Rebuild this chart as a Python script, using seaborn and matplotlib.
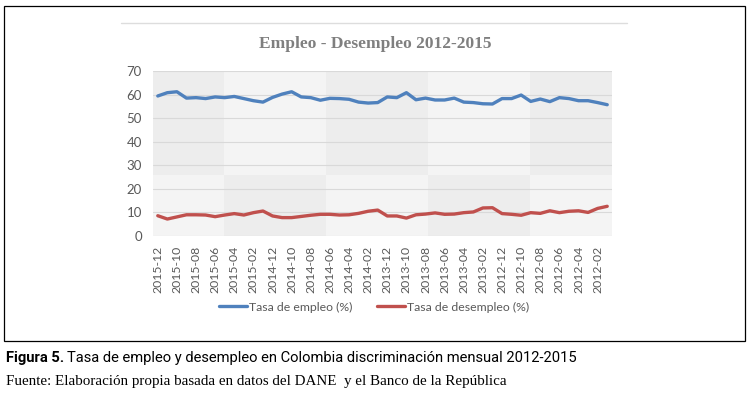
import matplotlib
matplotlib.use("Agg")
import matplotlib.pyplot as plt
from matplotlib.patches import Rectangle
import seaborn as sns
import pandas as pd

months = [
    "2015-12", "2015-11", "2015-10", "2015-09", "2015-08", "2015-07", "2015-06", "2015-05",
    "2015-04", "2015-03", "2015-02", "2015-01", "2014-12", "2014-11", "2014-10", "2014-09",
    "2014-08", "2014-07", "2014-06", "2014-05", "2014-04", "2014-03", "2014-02", "2014-01",
    "2013-12", "2013-11", "2013-10", "2013-09", "2013-08", "2013-07", "2013-06", "2013-05",
    "2013-04", "2013-03", "2013-02", "2013-01", "2012-12", "2012-11", "2012-10", "2012-09",
    "2012-08", "2012-07", "2012-06", "2012-05", "2012-04", "2012-03", "2012-02", "2012-01",
]
empleo = [
    59.4, 60.8, 61.2, 58.5, 58.7, 58.3, 59.0, 58.7, 59.2, 58.3, 57.4, 56.8,
    58.8, 60.2, 61.2, 59.0, 58.7, 57.6, 58.4, 58.3, 58.0, 56.8, 56.4, 56.6,
    59.0, 58.7, 60.8, 57.8, 58.5, 57.7, 57.7, 58.5, 56.8, 56.6, 56.1, 56.0,
    58.3, 58.3, 59.8, 57.1, 58.1, 57.0, 58.7, 58.3, 57.4, 57.4, 56.6, 55.7,
]
desempleo = [
    8.6, 7.2, 8.1, 9.0, 9.0, 8.9, 8.2, 8.9, 9.5, 8.9, 9.9, 10.6,
    8.5, 7.8, 7.8, 8.3, 8.8, 9.2, 9.2, 8.9, 9.0, 9.6, 10.5, 11.0,
    8.5, 8.5, 7.6, 9.0, 9.3, 9.8, 9.2, 9.3, 9.9, 10.2, 11.9, 12.0,
    9.5, 9.2, 8.8, 9.9, 9.6, 10.7, 9.9, 10.5, 10.7, 10.0, 11.7, 12.6,
]
series_names = ["Tasa de empleo (%)", "Tasa de desempleo (%)"]
title = "Empleo - Desempleo 2012-2015"
yticks = [0, 10, 20, 30, 40, 50, 60, 70]

df = pd.DataFrame({
    "pos": list(range(len(months))) * 2,
    "mes": months * 2,
    "valor": empleo + desempleo,
    "serie": [series_names[0]] * len(months) + [series_names[1]] * len(months),
})

sns.set_theme(style="white")
plt.rcParams["font.family"] = ["Lato", "DejaVu Sans"]

fig = plt.figure(figsize=(7.49, 3.93), dpi=100)
fig.patch.set_facecolor("white")

# outer frame
fig.patches.append(Rectangle((4 / 749, 1 - 341 / 393), 741 / 749, 335 / 393,
                             transform=fig.transFigure, fill=False,
                             edgecolor="black", linewidth=0.9))
# faint top line
fig.lines.append(plt.Line2D([121 / 749, 627 / 749], [1 - 23 / 393, 1 - 23 / 393],
                            transform=fig.transFigure, color="#dddddd", linewidth=1))

ax = fig.add_axes([153 / 749, 1 - 236 / 393, 459 / 749, 165 / 393])

# background checker pattern (top-left cell textured)
ax.set_facecolor("#f4f4f4")
xb = [0, 0.1547, 0.377, 0.599, 0.821, 1.0]
yb = 25.7 / 70
for i in range(5):
    for j in range(2):
        if (i + j) % 2 == 1:
            y0 = 0 if j == 0 else yb
            h = yb if j == 0 else 1 - yb
            ax.add_patch(Rectangle((xb[i], y0), xb[i + 1] - xb[i], h,
                                   transform=ax.transAxes, facecolor="#ededed",
                                   edgecolor="none", zorder=0))

sns.lineplot(data=df, x="pos", y="valor", hue="serie", palette=["#4f81bd", "#c0504d"],
             linewidth=2.4, ax=ax, legend=True, zorder=3)

ax.set_xlim(-0.5, len(months) - 0.5)
ax.set_ylim(0, 70)
ax.set_yticks(yticks)
ax.set_yticklabels([str(v) for v in yticks], fontsize=9.5, color="#595959")
ax.set_xticks(range(0, len(months), 2))
ax.set_xticklabels(months[::2], rotation=90, fontsize=8.8, color="#595959")
ax.tick_params(axis="y", length=0, pad=8)
ax.tick_params(axis="x", length=0, pad=7)
ax.grid(axis="y", color="#d9d9d9", linewidth=0.8, zorder=1)
ax.set_axisbelow(True)
for s in ax.spines.values():
    s.set_visible(False)
ax.set_xlabel("")
ax.set_ylabel("")

leg = ax.legend(loc="center", bbox_to_anchor=(374 / 749, 1 - 307 / 393),
                bbox_transform=fig.transFigure, ncol=2, frameon=False,
                fontsize=8.8, handlelength=2.3, columnspacing=2.0, handletextpad=0.15)
for t in leg.get_texts():
    t.set_color("#595959")
for l in leg.get_lines():
    l.set_linewidth(2.4)

fig.text(375 / 749, 1 - 44 / 393, title, ha="center", va="center", fontsize=12.5,
         fontweight="bold", color="#7f7f7f", family=["Liberation Serif", "DejaVu Serif"])

narrow = ["Liberation Sans Narrow", "Roboto", "DejaVu Sans"]
t1 = fig.text(6 / 749, 1 - 358 / 393, "Figura 5.", ha="left", va="center", fontsize=10.6,
              fontweight="bold", family=narrow, color="black")
fig.canvas.draw()
bb = t1.get_window_extent()
fig.text(bb.x1 / 749 + 3 / 749, 1 - 358 / 393,
         "Tasa de empleo y desempleo en Colombia discriminación mensual 2012-2015",
         ha="left", va="center", fontsize=10.6, family=narrow, color="black")
fig.text(6 / 749, 1 - 381 / 393,
         "Fuente: Elaboración propia basada en datos del DANE  y el Banco de la República",
         ha="left", va="center", fontsize=10.8, family=["Liberation Serif", "DejaVu Serif"],
         color="black")

fig.savefig("out.png", dpi=100, facecolor="white")
